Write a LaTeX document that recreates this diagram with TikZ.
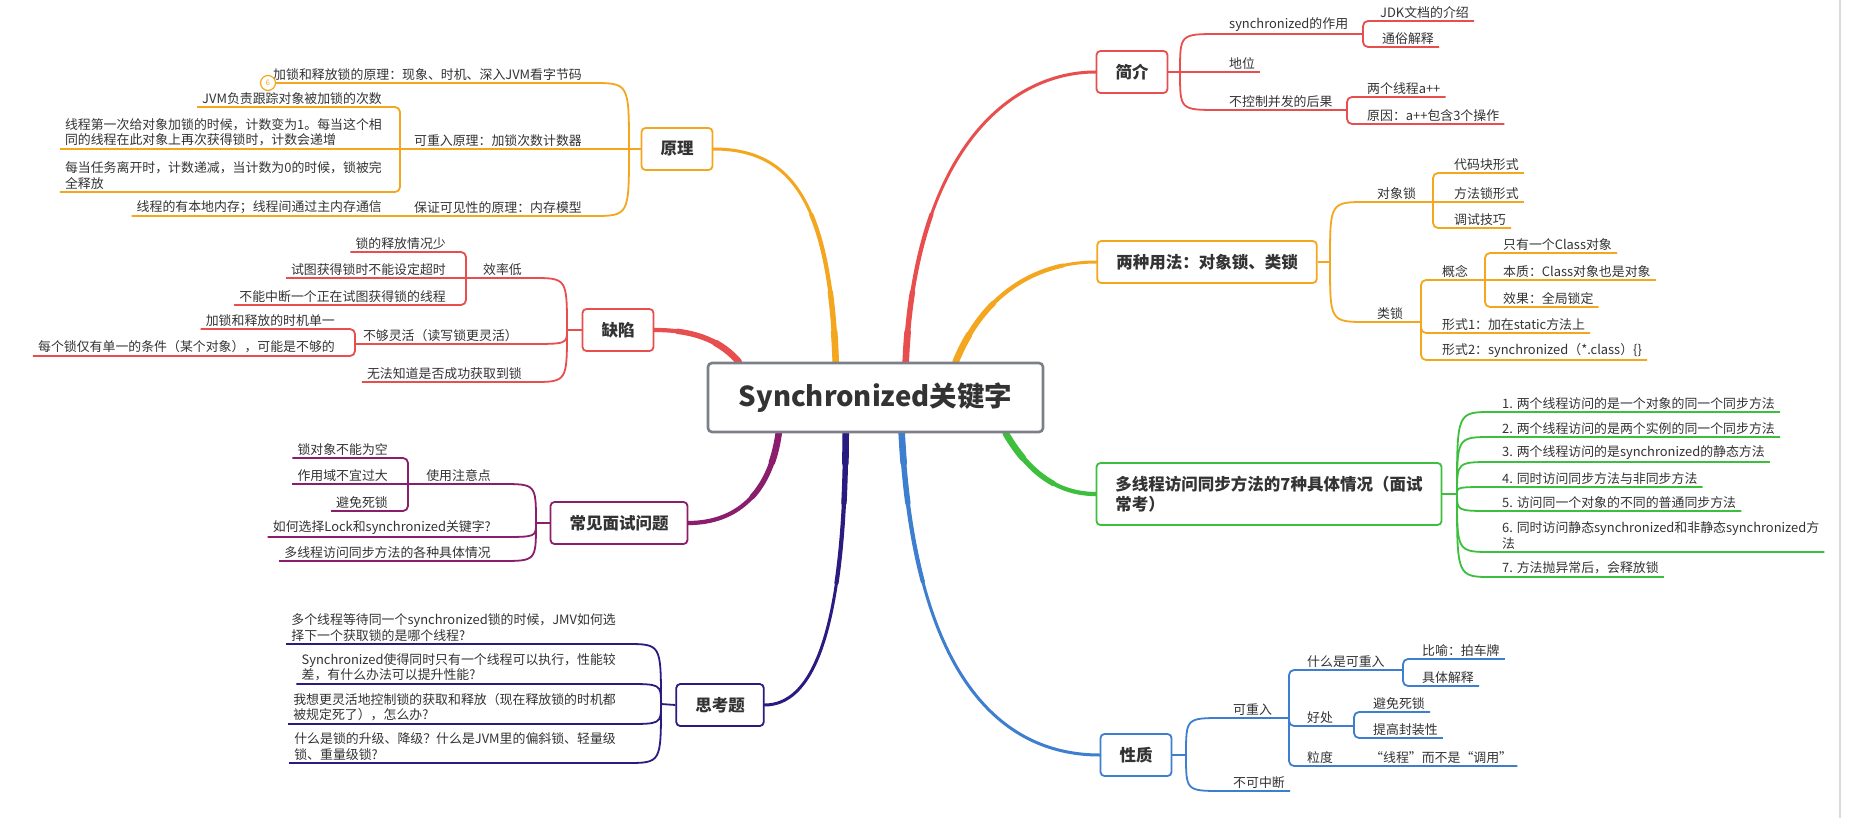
\documentclass[tikz,border=0pt]{standalone}
\usepackage{fontspec}
\setmainfont{Noto Sans CJK SC}
\usepackage{tikz}
\usetikzlibrary{calc,backgrounds}

\definecolor{txt}{HTML}{333333}
\definecolor{cGray}{HTML}{7B8088}
\definecolor{cRed}{HTML}{E84E4E}
\definecolor{cOrange}{HTML}{F4A71E}
\definecolor{cGreen}{HTML}{3DBE3D}
\definecolor{cBlue}{HTML}{3E7ECF}
\definecolor{cIndigo}{HTML}{2A1B80}
\definecolor{cPurple}{HTML}{8B1D6D}
\definecolor{cFrame}{HTML}{DADADA}

\newcommand{\lblfont}{\fontsize{12.9}{15.5}\selectfont}
\newcommand{\topicfont}{\fontsize{16.5}{20.5}\selectfont\bfseries}
% tapered main branch: thick at the centre, thin at the topic
\newcommand{\drawtrunk}[2]{%
  \foreach \w/\l in {3/3000,4.2/150,5.4/70,6.6/30}
    \draw[#1, line width=\w pt, line cap=round, dash pattern=on \l pt off 3000pt] #2;}

\tikzset{
  ctrbox/.style={draw=cGray, line width=2.6pt, rounded corners=4pt, fill=white, text=txt,
    font=\fontsize{27.5}{31}\selectfont\bfseries, minimum width=335pt, minimum height=69pt},
  topic/.style={draw=#1, line width=1.8pt, rounded corners=4pt, fill=white, text=txt,
    font=\topicfont, inner xsep=19pt, minimum height=42pt},
  lblr/.style={anchor=south west, font=\lblfont, text=txt, inner xsep=5pt, inner ysep=2.5pt, align=left},
  lbll/.style={anchor=south east, font=\lblfont, text=txt, inner xsep=5pt, inner ysep=2.5pt, align=left},
  twig/.style={draw=#1, line width=1.8pt, rounded corners=5pt},
}

\begin{document}
\begin{tikzpicture}[x=1pt,y=-1pt]
  \useasboundingbox (0,0) rectangle (1857,818);

  % central topic and main topics
  \node[ctrbox] (ctr) at (875.5,397.5) {Synchronized关键字};
  \node[topic=cRed] (jj) at (1132,72) {简介};
  \node[topic=cOrange] (yf) at (1207,262) {两种用法：对象锁、类锁};
  \node[topic=cGreen, align=left, minimum height=62pt] (dx) at (1269,494) {多线程访问同步方法的7种具体情况（面试\\常考）};
  \node[topic=cBlue] (xz) at (1136,755) {性质};
  \node[topic=cOrange] (yl) at (677,149) {原理};
  \node[topic=cRed] (qx) at (618,330) {缺陷};
  \node[topic=cPurple] (ms) at (619,523) {常见面试问题};
  \node[topic=cIndigo] (sk) at (720,705) {思考题};

  % trunks
  \begin{pgfonlayer}{background}
    \fill[white] (0,0) rectangle (1857,818);
    \draw[cFrame, line width=1.5pt] (1840,0) -- (1840,818);
    \drawtrunk{cOrange}{($(ctr.north west)+(129,0)$) .. controls (830,200) and (790,149) .. (yl.east)}
    \drawtrunk{cRed}{($(ctr.north west)+(32,0)$) .. controls (718,338) and (690,330) .. (qx.east)}
    \drawtrunk{cRed}{($(ctr.north west)+(199,0)$) .. controls (915,150) and (1010,72) .. (jj.west)}
    \drawtrunk{cOrange}{($(ctr.north west)+(249,0)$) .. controls (985,290) and (1040,262) .. (yf.west)}
    \drawtrunk{cGreen}{($(ctr.south west)+(299,0)$) .. controls (1030,475) and (1060,494) .. (dx.west)}
    \drawtrunk{cBlue}{($(ctr.south west)+(195,0)$) .. controls (915,690) and (1010,755) .. (xz.west)}
    \drawtrunk{cIndigo}{($(ctr.south west)+(139,0)$) .. controls (845,640) and (810,705) .. (sk.east)}
    \drawtrunk{cPurple}{($(ctr.south west)+(72,0)$) .. controls (770,495) and (735,523) .. (ms.east)}
  \end{pgfonlayer}

  % 简介
  \coordinate (jjJ) at (1180,72);
  \node[lblr] (jj1) at (1224,34) {synchronized的作用};
  \coordinate (jj1b) at (1363,34);
  \node[lblr] (jj11) at (1375,21) {JDK文档的介绍};
  \node[lblr] (jj12) at (1377,47) {通俗解释};
  \node[lblr] (jj2) at (1224,72) {地位};
  \node[lblr] (jj3) at (1224,110) {不控制并发的后果};
  \coordinate (jj3b) at (1347,110);
  \node[lblr] (jj31) at (1362,97) {两个线程a++};
  \node[lblr] (jj32) at (1362,124) {原因：a++包含3个操作};
  \draw[twig=cRed] (jj.east) -- (jjJ);
  \draw[twig=cRed] (jjJ) .. controls (jjJ |- jj1.south west) .. (jj1.south west) -- (jj1b);
  \draw[twig=cRed] (jj1b) |- (jj11.south east);
  \draw[twig=cRed] (jj1b) |- (jj12.south east);
  \draw[twig=cRed] (jjJ) -- (jj2.south east);
  \draw[twig=cRed] (jjJ) .. controls (jjJ |- jj3.south west) .. (jj3.south west) -- (jj3b);
  \draw[twig=cRed] (jj3b) |- (jj31.south east);
  \draw[twig=cRed] (jj3b) |- (jj32.south east);

  % 两种用法
  \coordinate (yfJ) at (1330,262);
  \node[lblr] (yf1) at (1372,202) {对象锁};
  \coordinate (yf1b) at (1433,202);
  \node[lblr] (yf11) at (1449,173) {代码块形式};
  \node[lblr] (yf12) at (1449,202) {方法锁形式};
  \node[lblr] (yf13) at (1449,228) {调试技巧};
  \node[lblr] (yf2) at (1372,322) {类锁};
  \coordinate (yf2b) at (1421,322);
  \node[lblr] (yf21) at (1437,280) {概念};
  \coordinate (yf21b) at (1485,280);
  \node[lblr] (yf211) at (1498,253) {只有一个Class对象};
  \node[lblr] (yf212) at (1498,280) {本质：Class对象也是对象};
  \node[lblr] (yf213) at (1498,307) {效果：全局锁定};
  \node[lblr] (yf22) at (1437,333) {形式1：加在static方法上};
  \node[lblr] (yf23) at (1437,360) {形式2：synchronized（*.class）\{\}};
  \draw[twig=cOrange] (yf.east) -- (yfJ);
  \draw[twig=cOrange] (yfJ) .. controls (yfJ |- yf1.south west) .. (yf1.south west) -- (yf1b);
  \draw[twig=cOrange] (yf1b) |- (yf11.south east);
  \draw[twig=cOrange] (yf1b) -- (yf12.south east);
  \draw[twig=cOrange] (yf1b) |- (yf13.south east);
  \draw[twig=cOrange] (yfJ) .. controls (yfJ |- yf2.south west) .. (yf2.south west) -- (yf2b);
  \draw[twig=cOrange] (yf2b) |- (yf21b);
  \draw[twig=cOrange] (yf21b) |- (yf211.south east);
  \draw[twig=cOrange] (yf21b) -- (yf212.south east);
  \draw[twig=cOrange] (yf21b) |- (yf213.south east);
  \draw[twig=cOrange] (yf2b) |- (yf22.south east);
  \draw[twig=cOrange] (yf2b) |- (yf23.south east);

  % 7种具体情况
  \coordinate (dxJ) at (1457,494);
  \node[lblr] (dx1) at (1497,412) {1. 两个线程访问的是一个对象的同一个同步方法};
  \node[lblr] (dx2) at (1497,437) {2. 两个线程访问的是两个实例的同一个同步方法};
  \node[lblr] (dx3) at (1497,462) {3. 两个线程访问的是synchronized的静态方法};
  \node[lblr] (dx4) at (1497,487) {4. 同时访问同步方法与非同步方法};
  \node[lblr] (dx5) at (1497,511) {5. 访问同一个对象的不同的普通同步方法};
  \node[lblr] (dx6) at (1497,552) {6. 同时访问静态synchronized和非静态synchronized方\\法};
  \node[lblr] (dx7) at (1497,577) {7. 方法抛异常后，会释放锁};
  \draw[twig=cGreen] (dx.east) -- (dxJ);
  \foreach \k in {1,...,7}
    \draw[twig=cGreen] (dxJ) .. controls (dxJ |- dx\k.south west) .. (dx\k.south west) -- (dx\k.south east);

  % 性质
  \coordinate (xzJ) at (1186,755);
  \node[lblr] (xz1) at (1228,718) {可重入};
  \coordinate (xz1b) at (1289,718);
  \node[lblr] (xz11) at (1302,670) {什么是可重入};
  \coordinate (xz11b) at (1403,670);
  \node[lblr] (xz111) at (1417,659) {比喻：拍车牌};
  \node[lblr] (xz112) at (1417,686) {具体解释};
  \node[lblr] (xz12) at (1302,726) {好处};
  \coordinate (xz12b) at (1354,726);
  \node[lblr] (xz121) at (1368,712) {避免死锁};
  \node[lblr] (xz122) at (1368,738) {提高封装性};
  \node[lblr] (xz13) at (1302,766) {粒度};
  \node[lblr] (xz131) at (1365,766) {“线程”而不是“调用”};
  \node[lblr] (xz2) at (1228,791) {不可中断};
  \draw[twig=cBlue] (xz.east) -- (xzJ);
  \draw[twig=cBlue] (xzJ) .. controls (xzJ |- xz1.south west) .. (xz1.south west) -- (xz1b);
  \draw[twig=cBlue] (xz1b) |- (xz11b);
  \draw[twig=cBlue] (xz11b) |- (xz111.south east);
  \draw[twig=cBlue] (xz11b) |- (xz112.south east);
  \draw[twig=cBlue] (xz1b) |- (xz12b);
  \draw[twig=cBlue] (xz12b) |- (xz121.south east);
  \draw[twig=cBlue] (xz12b) |- (xz122.south east);
  \draw[twig=cBlue] (xz1b) |- (xz131.south east);
  \draw[twig=cBlue] (xzJ) .. controls (xzJ |- xz2.south west) .. (xz2.south west) -- (xz2.south east);

  % 原理
  \coordinate (ylJ) at (629,149);
  \node[lbll] (yl1) at (587,83) {加锁和释放锁的原理：现象、时机、深入JVM看字节码};
  \node[circle, draw=cOrange, line width=1.2pt, fill=white, inner sep=0pt, minimum size=15pt,
    font=\fontsize{7.5}{7.5}\selectfont, text=cOrange] (badge) at (268,83) {6};
  \node[lbll] (yl2) at (587,149) {可重入原理：加锁次数计数器};
  \coordinate (yl2b) at (400,149);
  \node[lbll] (yl21) at (387,107) {JVM负责跟踪对象被加锁的次数};
  \node[lbll] (yl22) at (387,149) {线程第一次给对象加锁的时候，计数变为1。每当这个相\\同的线程在此对象上再次获得锁时，计数会递增};
  \node[lbll] (yl23) at (387,192) {每当任务离开时，计数递减，当计数为0的时候，锁被完\\全释放};
  \node[lbll] (yl3) at (587,216) {保证可见性的原理：内存模型};
  \node[lbll] (yl31) at (387,216) {线程的有本地内存；线程间通过主内存通信};
  \draw[twig=cOrange] (yl.west) -- (ylJ);
  \draw[twig=cOrange] (ylJ) .. controls (ylJ |- yl1.south east) .. (yl1.south east) -- (badge.east);
  \draw[twig=cOrange] (ylJ) -- (yl2b);
  \draw[twig=cOrange] (yl2b) |- (yl21.south west);
  \draw[twig=cOrange] (yl2b) -- (yl22.south west);
  \draw[twig=cOrange] (yl2b) |- (yl23.south west);
  \draw[twig=cOrange] (ylJ) .. controls (ylJ |- yl3.south east) .. (yl3.south east) -- (yl31.south west);

  % 缺陷
  \coordinate (qxJ) at (567,330);
  \node[lbll] (qx1) at (527,278) {效率低};
  \coordinate (qx1b) at (466,278);
  \node[lbll] (qx11) at (451,252) {锁的释放情况少};
  \node[lbll] (qx12) at (451,278) {试图获得锁时不能设定超时};
  \node[lbll] (qx13) at (451,305) {不能中断一个正在试图获得锁的线程};
  \node[lbll] (qx2) at (523,344) {不够灵活（读写锁更灵活）};
  \coordinate (qx2b) at (355,344);
  \node[lbll] (qx21) at (340,329) {加锁和释放的时机单一};
  \node[lbll] (qx22) at (340,356) {每个锁仅有单一的条件（某个对象），可能是不够的};
  \node[lbll] (qx3) at (527,382) {无法知道是否成功获取到锁};
  \draw[twig=cRed] (qx.west) -- (qxJ);
  \draw[twig=cRed] (qxJ) .. controls (qxJ |- qx1.south east) .. (qx1.south east) -- (qx1b);
  \draw[twig=cRed] (qx1b) |- (qx11.south west);
  \draw[twig=cRed] (qx1b) -- (qx12.south west);
  \draw[twig=cRed] (qx1b) |- (qx13.south west);
  \draw[twig=cRed] (qxJ) .. controls (qxJ |- qx2.south east) .. (qx2.south east) -- (qx2b);
  \draw[twig=cRed] (qx2b) |- (qx21.south west);
  \draw[twig=cRed] (qx2b) |- (qx22.south west);
  \draw[twig=cRed] (qxJ) .. controls (qxJ |- qx3.south east) .. (qx3.south east) -- (qx3.south west);

  % 常见面试问题
  \coordinate (msJ) at (536,523);
  \node[lbll] (ms1) at (496,484) {使用注意点};
  \coordinate (ms1b) at (408,484);
  \node[lbll] (ms11) at (393,458) {锁对象不能为空};
  \node[lbll] (ms12) at (393,484) {作用域不宜过大};
  \node[lbll] (ms13) at (393,511) {避免死锁};
  \node[lbll] (ms2) at (496,537) {如何选择Lock和synchronized关键字?};
  \node[lbll] (ms3) at (496,561) {多线程访问同步方法的各种具体情况};
  \draw[twig=cPurple] (ms.west) -- (msJ);
  \draw[twig=cPurple] (msJ) .. controls (msJ |- ms1.south east) .. (ms1.south east) -- (ms1b);
  \draw[twig=cPurple] (ms1b) |- (ms11.south west);
  \draw[twig=cPurple] (ms1b) -- (ms12.south west);
  \draw[twig=cPurple] (ms1b) |- (ms13.south west);
  \draw[twig=cPurple] (msJ) .. controls (msJ |- ms2.south east) .. (ms2.south east) -- (ms2.south west);
  \draw[twig=cPurple] (msJ) .. controls (msJ |- ms3.south east) .. (ms3.south east) -- (ms3.south west);

  % 思考题
  \coordinate (skJ) at (661,704);
  \node[lbll] (sk1) at (621,644) {多个线程等待同一个synchronized锁的时候，JMV如何选\\择下一个获取锁的是哪个线程?};
  \node[lbll] (sk2) at (621,684) {Synchronized使得同时只有一个线程可以执行，性能较\\差，有什么办法可以提升性能?};
  \node[lbll] (sk3) at (621,724) {我想更灵活地控制锁的获取和释放（现在释放锁的时机都\\被规定死了），怎么办?};
  \node[lbll] (sk4) at (621,763) {什么是锁的升级、降级？什么是JVM里的偏斜锁、轻量级\\锁、重量级锁?};
  \draw[twig=cIndigo] (sk.west) -- (skJ);
  \foreach \k in {1,...,4}
    \draw[twig=cIndigo] (skJ) .. controls (skJ |- sk\k.south east) .. (sk\k.south east) -- (sk\k.south west);
\end{tikzpicture}
\end{document}
